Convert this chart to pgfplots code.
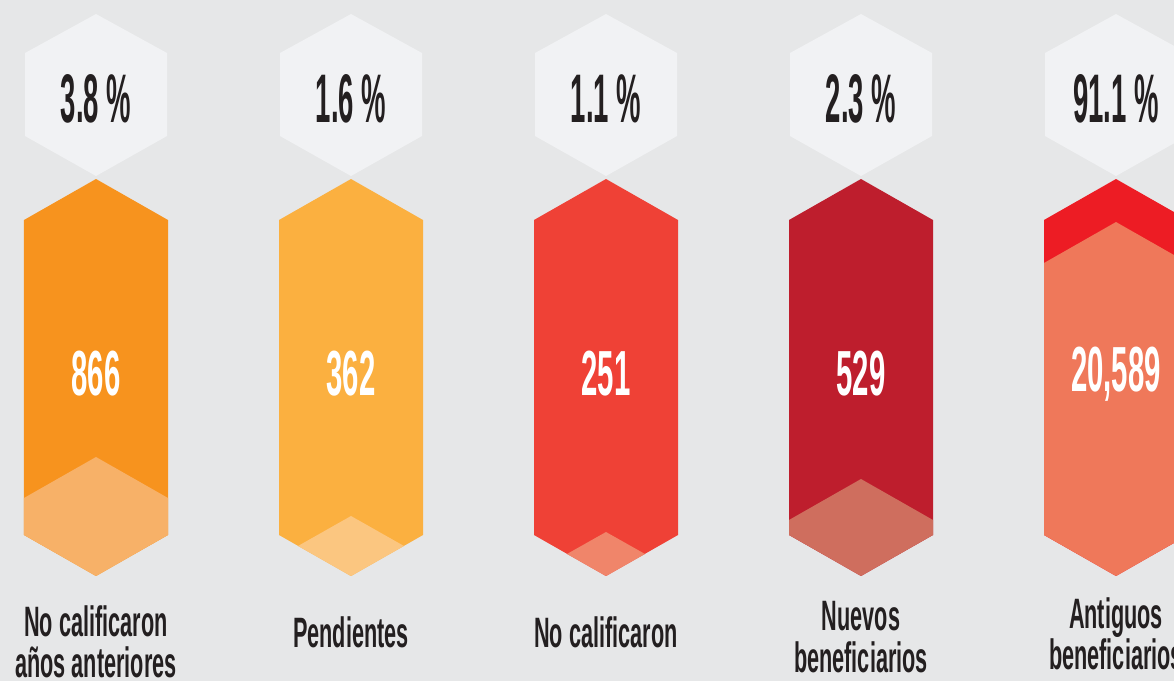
\documentclass[border=0pt]{standalone}
\usepackage{pgfplots}
\pgfplotsset{compat=1.18}
\usepackage{fontspec}
\setmainfont{Liberation Sans}
\newfontfamily\condpct{Liberation Sans}[FakeStretch=0.40]
\newfontfamily\condnum{Liberation Sans}[FakeStretch=0.46]
\newfontfamily\condlab{Liberation Sans}[FakeStretch=0.51]
\definecolor{bg}{HTML}{E6E7E8}
\definecolor{hexg}{HTML}{F1F2F4}
\definecolor{cA}{HTML}{F7931E}\definecolor{lA}{HTML}{F7B168}
\definecolor{cB}{HTML}{FBB040}\definecolor{lB}{HTML}{FBC680}
\definecolor{cC}{HTML}{EF4136}\definecolor{lC}{HTML}{F0856A}
\definecolor{cD}{HTML}{BE1E2D}\definecolor{lD}{HTML}{CF6E5E}
\definecolor{cE}{HTML}{ED1C24}\definecolor{lE}{HTML}{EF785A}
\definecolor{txt}{HTML}{231F20}
\begin{document}
\begin{tikzpicture}
\begin{axis}[name=ax, x=0.4pt, y=0.4pt, scale only axis,
  xmin=0, xmax=1174, ymin=0, ymax=681, y dir=reverse,
  hide axis, clip=true]
% background
\addplot[fill=bg, draw=none] coordinates {(0,0) (1174,0) (1174,681) (0,681)} -- cycle;
% top hexagons
\addplot[fill=hexg, draw=none] coordinates {(96,14) (25,53) (25,136) (96,176) (167,136) (167,53)} -- cycle;
\addplot[fill=hexg, draw=none] coordinates {(351,14) (280,53) (280,136) (351,176) (422,136) (422,53)} -- cycle;
\addplot[fill=hexg, draw=none] coordinates {(606,14) (535,53) (535,136) (606,176) (677,136) (677,53)} -- cycle;
\addplot[fill=hexg, draw=none] coordinates {(861,14) (790,53) (790,136) (861,176) (932,136) (932,53)} -- cycle;
\addplot[fill=hexg, draw=none] coordinates {(1116,14) (1045,53) (1045,136) (1116,176) (1187,136) (1187,53)} -- cycle;
% colored bodies
\addplot[fill=cA, draw=none] coordinates {(96,179) (24,220) (24,535) (96,576) (168,535) (168,220)} -- cycle;
\addplot[fill=cB, draw=none] coordinates {(351,179) (279,220) (279,535) (351,576) (423,535) (423,220)} -- cycle;
\addplot[fill=cC, draw=none] coordinates {(606,179) (534,220) (534,535) (606,576) (678,535) (678,220)} -- cycle;
\addplot[fill=cD, draw=none] coordinates {(861,179) (789,220) (789,535) (861,576) (933,535) (933,220)} -- cycle;
\addplot[fill=cE, draw=none] coordinates {(1116,179) (1044,220) (1044,535) (1116,576) (1188,535) (1188,220)} -- cycle;
% lighter fill levels
\addplot[fill=lA, draw=none] coordinates {(96,457) (24,498) (24,535) (96,576) (168,535) (168,498)} -- cycle;
\addplot[fill=lB, draw=none] coordinates {(351,516) (298,546) (351,576) (404,546)} -- cycle;
\addplot[fill=lC, draw=none] coordinates {(606,532) (567,554) (606,576) (645,554)} -- cycle;
\addplot[fill=lD, draw=none] coordinates {(861,479) (789,520) (789,535) (861,576) (933,535) (933,520)} -- cycle;
\addplot[fill=lE, draw=none] coordinates {(1116,222) (1044,263) (1044,535) (1116,576) (1188,535) (1188,263)} -- cycle;
% percentages
\begin{scope}[every node/.style={font=\condpct\bfseries\fontsize{27.5}{30}\selectfont, text=txt, inner sep=0pt}]
\node at (axis cs:96,99) {3.8~\%};
\node at (axis cs:351,99) {1.6~\%};
\node at (axis cs:606,99) {1.1~\%};
\node at (axis cs:861,99) {2.3~\%};
\node at (axis cs:1116,99) {91.1~\%};
\end{scope}
% counts
\begin{scope}[every node/.style={font=\condnum\bfseries\fontsize{25.5}{28}\selectfont, text=white, inner sep=0pt}]
\node at (axis cs:96,374) {866};
\node at (axis cs:351,374) {362};
\node at (axis cs:606,374) {251};
\node at (axis cs:861,374) {529};
\node at (axis cs:1116,374) {20,589};
\end{scope}
% labels
\begin{scope}[every node/.style={font=\condlab\bfseries\fontsize{17}{16.5}\selectfont, text=txt, inner sep=0pt, align=center}]
\node at (axis cs:96,642) {No calificaron\\años anteriores};
\node at (axis cs:351,632) {Pendientes};
\node at (axis cs:606,632) {No calificaron};
\node at (axis cs:861,637) {Nuevos\\beneficiarios};
\node at (axis cs:1116,634) {Antiguos\\beneficiarios};
\end{scope}
\end{axis}
\pgfresetboundingbox
\useasboundingbox (ax.south west) rectangle (ax.north east);
\end{tikzpicture}
\end{document}
